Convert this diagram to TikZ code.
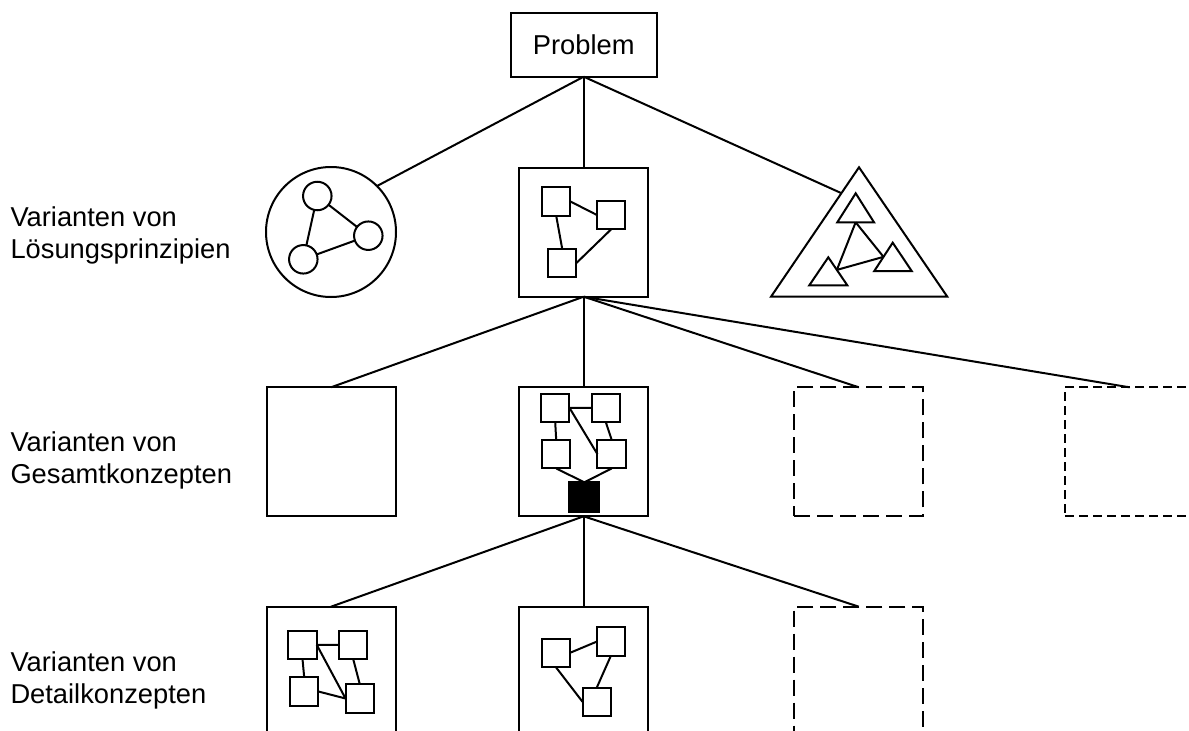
\documentclass[tikz,border=0pt]{standalone}
\usepackage{fontspec}
\setmainfont{Liberation Sans}
\usetikzlibrary{calc}
\begin{document}
\begin{tikzpicture}[x=1pt,y=-1pt,
  line width=2pt,
  every node/.style={outer sep=0pt, inner sep=0pt},
  lbl/.style={anchor=base west, font=\fontsize{27.3}{32}\selectfont},
  bigbox/.style={draw, minimum width=129pt, minimum height=129pt},
  longdash/.style={bigbox, dash pattern=on 16pt off 7pt},
  shortdash/.style={bigbox, dash pattern=on 9pt off 5pt},
  sq/.style={draw, fill=white, minimum size=28.5pt},
  ring/.style={draw, circle, minimum size=28.5pt}
]
\useasboundingbox (0,0) rectangle (1189,731);

% row labels
\node[lbl] (l1a) at (10.5,226.7) {Varianten von};
\node[lbl] (l1b) at (10.5,258.3) {Lösungsprinzipien};
\node[lbl] (l2a) at (10.5,451.7) {Varianten von};
\node[lbl] (l2b) at (10.5,483.3) {Gesamtkonzepten};
\node[lbl] (l3a) at (10.5,671.7) {Varianten von};
\node[lbl] (l3b) at (10.5,703.3) {Detailkonzepten};

% root
\node[draw, minimum width=146pt, minimum height=63.4pt, text depth=0pt,
      font=\fontsize{27.3}{32}\selectfont] (prob) at (583.7,45) {Problem};

% --- principle variants ---
% circle principle
\node[draw, circle, minimum size=130pt] (pc) at (331,232) {};
\node[ring] (c1) at (317.3,196) {};
\node[ring] (c2) at (368.3,235.7) {};
\node[ring] (c3) at (303.3,259.3) {};
\draw (c1) -- (c2) (c1) -- (c3) (c3) -- (c2);

% square principle
\node[bigbox] (ps) at (583.7,232.2) {};
\node[sq] (sA) at (556.2,201.5) {};
\node[sq] (sB) at (611.2,215) {};
\node[sq] (sC) at (562.2,263) {};
\draw (sA.east) -- (sB.west) (sA.south) -- (sC.north) (sB.south) -- (sC.east);

% triangle principle
\coordinate (tA) at (859,167.3);
\coordinate (tL) at (771,296.7);
\coordinate (tR) at (947.3,296.7);
\draw (tA) -- (tL) -- (tR) -- cycle;
\coordinate (uA) at (855.7,193.3);
\coordinate (uL) at (837.3,222.3);
\coordinate (uR) at (874,222.3);
\coordinate (vA) at (892.7,242.7);
\coordinate (vL) at (874.3,271);
\coordinate (vR) at (911.7,271);
\coordinate (wA) at (828.3,257.3);
\coordinate (wL) at (809.3,285.3);
\coordinate (wR) at (847.3,285.3);
\draw (uA) -- (uL) -- (uR) -- cycle;
\draw (vA) -- (vL) -- (vR) -- cycle;
\draw (wA) -- (wL) -- (wR) -- cycle;
\coordinate (p1) at ($(uL)!0.5!(uR)$);
\coordinate (p2) at ($(vA)!0.5!(vL)$);
\coordinate (p3) at ($(wA)!0.45!(wR)$);
\draw (p1) -- (p2) (p1) -- (p3) (p3) -- (p2);

% connectors from the root
\draw (prob.south) -- (pc.45);
\draw (prob.south) -- (ps.north);
\draw (prob.south) -- ($(tA)!0.2!(tL)$);

% --- overall concept variants ---
\node[bigbox] (g1) at (331,451.8) {};
\node[bigbox] (g2) at (583.7,451.8) {};
\node[longdash] (g3) at (858.8,451.8) {};
\node[shortdash] (g4) at (1129.5,451.8) {};

\node[sq] (g2a) at (555.2,407.8) {};
\node[sq] (g2b) at (605.8,407.8) {};
\node[sq] (g2c) at (556.2,454.2) {};
\node[sq] (g2d) at (611.7,454.2) {};
\node[draw, fill=black, minimum width=30pt, minimum height=29.4pt] (g2e) at (584.3,497) {};
\draw (g2a.east) -- (g2b.west) (g2a.east) -- (g2d.west)
      (g2a.south) -- (g2c.north) (g2b.south) -- (g2d.north)
      (g2c.south) -- (g2e.north) (g2d.south) -- (g2e.north);

\foreach \t in {g1,g2,g3,g4} \draw (ps.south) -- (\t.north);

% --- detail concept variants ---
\node[bigbox] (d1) at (331,671.2) {};
\node[bigbox] (d2) at (583.7,671.2) {};
\node[longdash] (d3) at (858.8,671.2) {};

\node[sq] (d1a) at (302.5,644.8) {};
\node[sq] (d1b) at (353.2,644.8) {};
\node[sq] (d1c) at (304.2,691.5) {};
\node[sq] (d1d) at (359.8,698.5) {};
\draw (d1a.east) -- (d1b.west) (d1a.east) -- (d1d.west)
      (d1a.south) -- (d1c.north) (d1b.south) -- (d1d.north)
      (d1c.east) -- (d1d.west);

\node[sq] (d2a) at (555.8,652.8) {};
\node[sq] (d2b) at (610.8,641.7) {};
\node[sq] (d2c) at (596.8,701.8) {};
\draw (d2a.east) -- (d2b.west) (d2a.south) -- (d2c.west) (d2b.south) -- (d2c.north);

\foreach \t in {d1,d2,d3} \draw (g2.south) -- (\t.north);
\end{tikzpicture}
\end{document}
